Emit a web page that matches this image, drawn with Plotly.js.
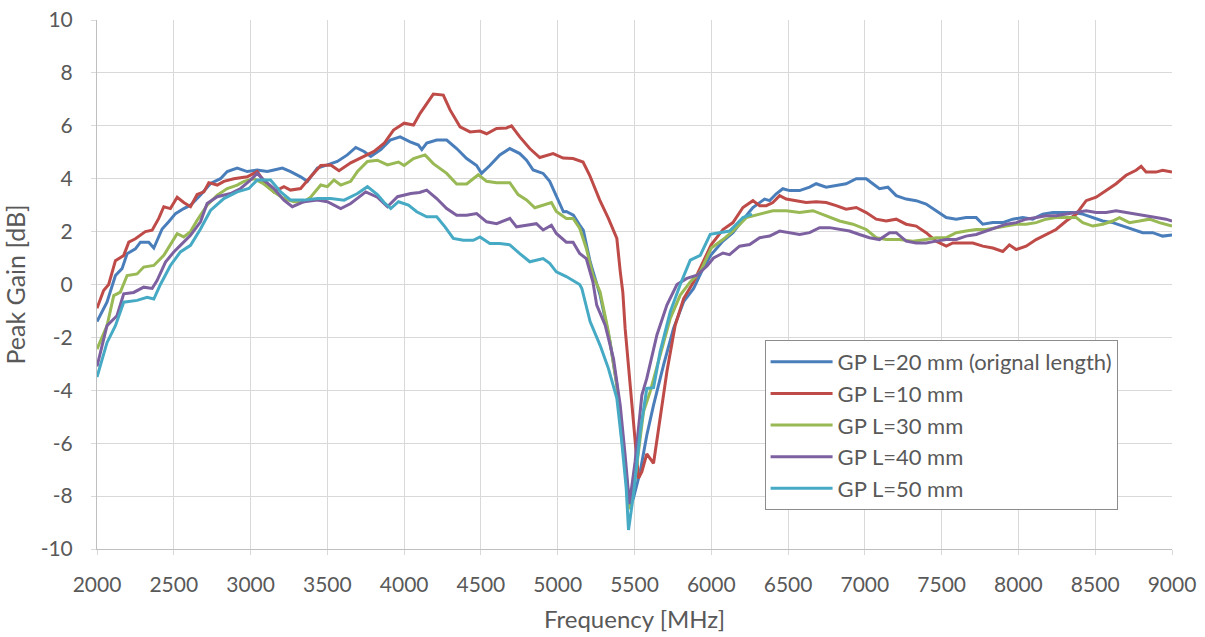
<!DOCTYPE html>
<html>
<head>
<meta charset="utf-8">
<script src="https://cdn.plot.ly/plotly-3.0.1.min.js"></script>
<style>html,body{margin:0;padding:0;background:#fff;}#chart{width:1205px;height:637px;}</style>
</head>
<body>
<div id="chart"></div>
<script>
// ---- data ----
const seriesNames = ["GP L=20 mm (orignal length)", "GP L=10 mm", "GP L=30 mm", "GP L=40 mm", "GP L=50 mm"];

const fBlue = [2000,2065,2120,2163,2196,2250,2283,2337,2370,2424,2467,2511,2565,2609,2674,2739,2804,2848,2913,2978,3043,3109,3152,3207,3261,3326,3370,3435,3500,3565,3630,3685,3739,3783,3848,3909,3974,4039,4093,4115,4147,4212,4277,4342,4407,4472,4504,4558,4623,4688,4753,4797,4840,4905,4948,4991,5037,5056,5102,5143,5167,5211,5276,5341,5385,5417,5446,5467,5493,5537,5580,5624,5689,5754,5820,5885,5946,6000,6076,6141,6217,6271,6347,6380,6423,6466,6510,6575,6640,6683,6748,6813,6878,6944,7009,7052,7095,7150,7204,7269,7334,7399,7464,7530,7595,7659,7725,7768,7833,7898,7963,8028,8093,8158,8224,8289,8354,8419,8484,8549,8614,8679,8744,8809,8874,8939,9000];
const gBlue = [-1.4,-0.67,0.34,0.6,1.16,1.35,1.6,1.6,1.38,2.1,2.37,2.68,2.87,3.0,3.38,3.82,4.0,4.27,4.4,4.27,4.33,4.27,4.33,4.4,4.27,4.07,3.9,4.4,4.52,4.65,4.9,5.18,5.03,4.84,5.1,5.46,5.58,5.39,5.27,5.1,5.35,5.46,5.46,5.14,4.76,4.5,4.2,4.5,4.9,5.14,4.95,4.7,4.33,4.2,3.9,3.33,2.75,2.76,2.62,2.25,2.05,0.86,-0.4,-2.17,-3.8,-5.8,-7.3,-8.3,-8.08,-7.08,-5.7,-4.56,-3.05,-1.66,-0.65,-0.15,0.6,1.13,1.64,1.96,2.53,2.91,3.23,3.17,3.43,3.62,3.55,3.55,3.68,3.81,3.68,3.74,3.81,4.0,4.0,3.81,3.62,3.68,3.36,3.23,3.17,3.04,2.79,2.53,2.47,2.53,2.53,2.28,2.34,2.34,2.47,2.53,2.47,2.66,2.72,2.72,2.72,2.66,2.53,2.4,2.34,2.21,2.08,1.96,1.96,1.83,1.87];

const fRed = [2000,2043,2076,2120,2174,2207,2250,2283,2315,2359,2402,2435,2478,2522,2565,2609,2652,2696,2728,2783,2826,2891,2978,3043,3087,3152,3217,3260,3326,3391,3457,3522,3576,3652,3739,3804,3870,3931,4000,4061,4104,4147,4190,4255,4299,4364,4429,4494,4537,4602,4667,4699,4753,4818,4883,4970,5035,5100,5165,5208,5273,5330,5385,5407,5424,5439,5472,5504,5526,5548,5580,5624,5667,5711,5765,5820,5885,5946,6000,6076,6141,6206,6271,6315,6358,6401,6445,6488,6553,6618,6683,6748,6813,6878,6944,7009,7074,7139,7204,7269,7334,7399,7464,7530,7573,7638,7703,7768,7833,7898,7941,7985,8050,8115,8180,8245,8311,8376,8441,8506,8571,8636,8701,8766,8799,8831,8896,8939,9000];
const gRed = [-0.9,-0.23,0,0.9,1.1,1.6,1.73,1.86,2.0,2.05,2.5,2.94,2.87,3.3,3.1,2.94,3.4,3.5,3.85,3.76,3.9,4.0,4.07,4.27,3.9,3.5,3.7,3.57,3.63,4.07,4.5,4.52,4.3,4.6,4.84,5.03,5.34,5.84,6.1,6.03,6.47,6.85,7.2,7.16,6.6,5.96,5.77,5.8,5.7,5.9,5.92,6.0,5.58,5.14,4.8,4.95,4.78,4.76,4.63,4.13,3.2,2.5,1.74,0.5,-0.3,-1.66,-3.8,-6.05,-7.33,-7.08,-6.4,-6.76,-5.06,-3.3,-1.54,-0.53,0.1,0.87,1.51,2.08,2.34,2.91,3.17,2.98,2.98,3.1,3.36,3.23,3.17,3.1,3.13,3.1,2.98,2.85,2.91,2.72,2.47,2.4,2.47,2.28,2.21,1.96,1.64,1.45,1.57,1.57,1.57,1.45,1.38,1.25,1.5,1.32,1.45,1.7,1.89,2.08,2.4,2.66,3.17,3.3,3.55,3.81,4.13,4.32,4.47,4.25,4.25,4.32,4.25];

const fGreen = [2000,2065,2109,2152,2196,2261,2304,2370,2435,2478,2522,2565,2609,2652,2717,2783,2848,2913,2957,3022,3087,3152,3217,3283,3348,3391,3457,3500,3543,3587,3652,3696,3761,3826,3891,3963,4000,4061,4136,4190,4277,4342,4407,4483,4537,4602,4688,4742,4797,4851,4905,4959,4991,5056,5100,5143,5186,5229,5276,5330,5385,5428,5470,5504,5559,5602,5667,5733,5798,5863,5928,5960,6000,6076,6141,6228,6315,6401,6488,6575,6662,6748,6835,6922,7009,7074,7139,7226,7312,7399,7464,7530,7595,7659,7725,7790,7855,7920,7985,8050,8115,8180,8245,8311,8376,8419,8484,8549,8614,8658,8723,8788,8853,8918,8961,9000];
const gGreen = [-2.44,-1.56,-0.42,-0.29,0.34,0.4,0.66,0.72,1.1,1.48,1.92,1.8,2.0,2.43,3.0,3.38,3.63,3.76,3.9,4.0,3.8,3.5,3.25,3.13,3.13,3.3,3.76,3.7,3.95,3.76,3.9,4.27,4.65,4.7,4.52,4.63,4.5,4.76,4.9,4.57,4.2,3.8,3.8,4.15,3.9,3.85,3.85,3.4,3.2,2.9,3.0,3.1,2.76,2.5,2.5,2.13,1.37,0.36,-0.28,-1.79,-3.8,-6.3,-8.5,-7.33,-4.8,-4.05,-2.67,-1.28,-0.4,0.1,0.48,0.9,1.38,1.7,2.02,2.53,2.66,2.79,2.79,2.72,2.79,2.6,2.4,2.28,2.08,1.77,1.7,1.7,1.64,1.7,1.77,1.77,1.96,2.02,2.08,2.08,2.15,2.21,2.28,2.28,2.34,2.47,2.53,2.53,2.53,2.34,2.21,2.28,2.4,2.53,2.34,2.4,2.47,2.34,2.28,2.21];

const fPurple = [2000,2065,2130,2174,2239,2304,2359,2391,2446,2500,2543,2609,2674,2717,2783,2870,2935,3000,3043,3087,3152,3217,3272,3348,3435,3500,3587,3652,3750,3826,3891,3957,4043,4100,4147,4212,4277,4342,4407,4472,4537,4602,4688,4732,4797,4861,4905,4959,4991,5056,5100,5143,5186,5211,5229,5254,5309,5363,5407,5439,5467,5504,5548,5580,5646,5711,5776,5841,5907,5972,6015,6076,6119,6184,6250,6315,6380,6445,6510,6575,6640,6705,6770,6835,6900,6965,7030,7095,7161,7204,7269,7334,7399,7464,7530,7595,7659,7725,7790,7855,7920,7985,8050,8115,8180,8245,8311,8376,8441,8506,8571,8636,8701,8766,8831,8896,8961,9000];
const gPurple = [-3.1,-1.56,-1.18,-0.35,-0.3,-0.1,-0.15,0.15,0.85,1.23,1.48,1.86,2.37,3.06,3.32,3.44,3.63,3.95,4.2,3.95,3.63,3.19,2.94,3.13,3.19,3.13,2.87,3.06,3.5,3.3,2.94,3.32,3.44,3.48,3.57,3.25,2.87,2.62,2.62,2.68,2.37,2.3,2.5,2.18,2.24,2.3,2.06,2.24,1.93,1.6,1.6,1.17,0.98,0.5,0.1,-0.78,-1.54,-2.8,-4.56,-6.45,-8.3,-6.7,-4.18,-3.55,-1.91,-0.78,0,0.23,0.35,0.7,1.0,1.19,1.13,1.45,1.51,1.77,1.83,2.02,1.96,1.89,1.96,2.15,2.15,2.08,2.02,1.89,1.77,1.7,1.96,1.96,1.64,1.57,1.57,1.64,1.7,1.7,1.83,1.89,2.02,2.15,2.28,2.34,2.47,2.53,2.6,2.6,2.66,2.72,2.79,2.72,2.72,2.79,2.72,2.66,2.6,2.53,2.47,2.4];

const fCyan = [2000,2065,2120,2174,2261,2326,2370,2413,2478,2543,2609,2674,2739,2826,2913,2989,3043,3130,3196,3261,3348,3435,3522,3609,3696,3761,3826,3870,3913,3963,4028,4082,4147,4212,4266,4320,4385,4450,4494,4558,4623,4688,4753,4818,4905,4948,4991,5056,5143,5157,5211,5276,5330,5385,5417,5446,5461,5493,5537,5580,5624,5667,5733,5798,5863,5928,5993,6054,6119,6163,6206,6265];
const gCyan = [-3.5,-2.2,-1.56,-0.67,-0.6,-0.48,-0.55,0,0.72,1.23,1.48,2.1,2.8,3.25,3.5,3.63,3.95,3.95,3.5,3.19,3.19,3.25,3.25,3.19,3.44,3.7,3.4,3.1,2.87,3.13,3.0,2.75,2.56,2.56,2.18,1.74,1.67,1.67,1.8,1.55,1.55,1.5,1.17,0.86,0.98,0.8,0.48,0.3,0,-0.15,-1.4,-2.3,-3.17,-4.3,-5.95,-7.7,-9.28,-7.96,-5.57,-3.93,-3.9,-2.54,-1.03,0,0.92,1.1,1.9,1.95,2.02,2.28,2.53,2.66];

const seriesX = [fBlue, fRed, fGreen, fPurple, fCyan];
const seriesY = [gBlue, gRed, gGreen, gPurple, gCyan];
const colors = ["#4A7EBB", "#BE4B48", "#98B954", "#7D60A0", "#46AAC5"];

const xTicks = [2000,2500,3000,3500,4000,4500,5000,5500,6000,6500,7000,7500,8000,8500,9000];
const yTicks = [-10,-8,-6,-4,-2,0,2,4,6,8,10];

const traces = seriesNames.map((name, i) => ({
  type: "scatter", mode: "lines", name: name,
  x: seriesX[i], y: seriesY[i],
  legendgroup: "g" + i,
  line: {color: colors[i], width: 3, shape: "linear"}
}));

const FONT = "Lato, 'Open Sans', sans-serif";
const layout = {
  width: 1205, height: 637,
  margin: {l: 97, r: 33, t: 20, b: 88},
  paper_bgcolor: "#ffffff", plot_bgcolor: "#ffffff",
  font: {family: FONT, color: "#595959", size: 21},
  showlegend: true,
  legend: {
    x: 0.621, y: 0.395, xanchor: "left", yanchor: "top",
    bgcolor: "#ffffff", bordercolor: "#8c8c8c", borderwidth: 1,
    font: {family: FONT, size: 22, color: "#595959"},
    tracegroupgap: 0, traceorder: "grouped", itemwidth: 62,
    entrywidth: 391, entrywidthmode: "pixels"
  },
  xaxis: {
    range: [2000, 9000], tickvals: xTicks, ticktext: xTicks.map(String),
    showgrid: true, gridcolor: "#d9d9d9", gridwidth: 1,
    showline: true, linecolor: "#bfbfbf", linewidth: 1,
    ticks: "outside", ticklen: 5, tickcolor: "#d9d9d9",
    ticklabelstandoff: 12,
    zeroline: false, tickfont: {size: 21, color: "#595959"},
    title: {text: "Frequency [MHz]", font: {size: 24, color: "#595959"}, standoff: 15}
  },
  yaxis: {
    range: [-10, 10], tickvals: yTicks, ticktext: yTicks.map(String),
    showgrid: true, gridcolor: "#d9d9d9", gridwidth: 1,
    showline: true, linecolor: "#bfbfbf", linewidth: 1,
    ticks: "outside", ticklen: 5, tickcolor: "#d9d9d9",
    ticklabelstandoff: 14,
    zeroline: false, tickfont: {size: 21, color: "#595959"},
    title: {text: "Peak Gain [dB]", font: {size: 25, color: "#595959"}, standoff: 7}
  }
};

Plotly.newPlot("chart", traces, layout, {displayModeBar: false, staticPlot: true});
</script>
</body>
</html>
